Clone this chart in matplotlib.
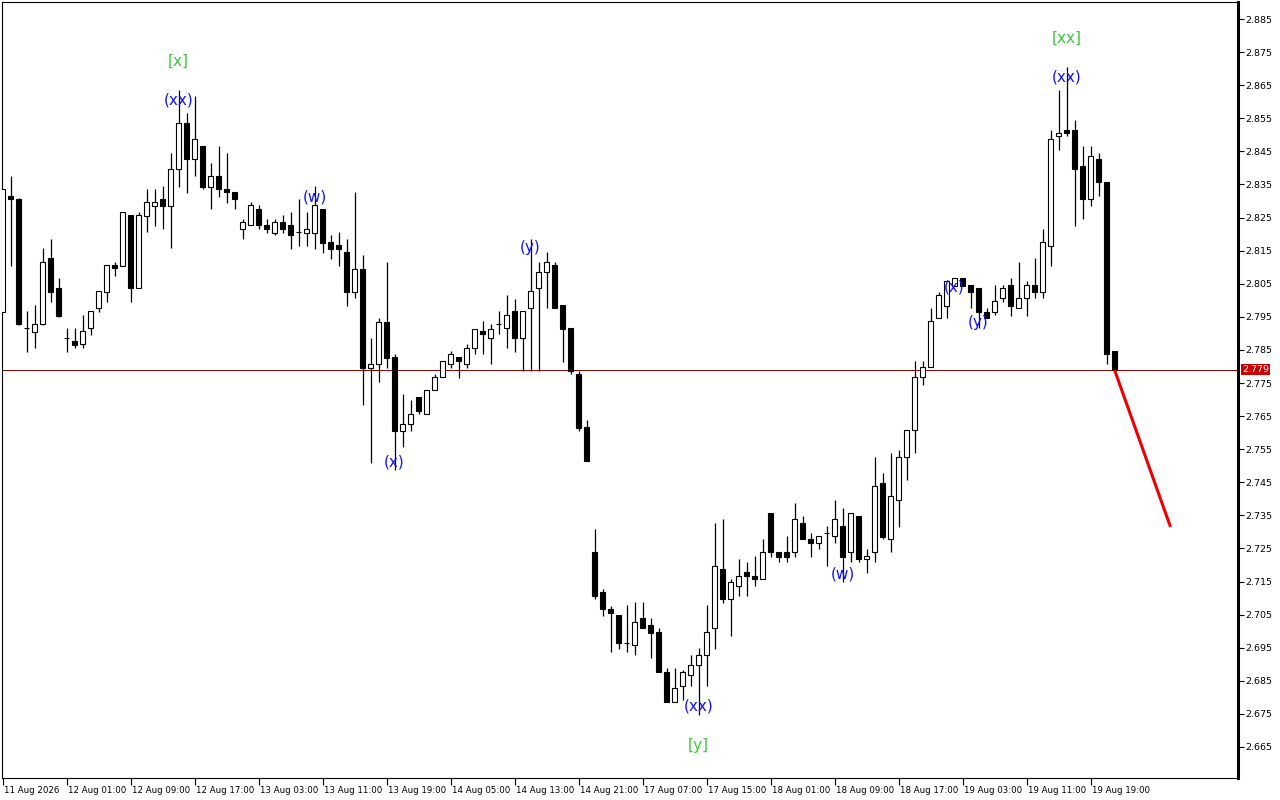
import matplotlib
matplotlib.use("Agg")
import matplotlib.pyplot as plt
import matplotlib.transforms as mtransforms
import numpy as np

# hourly candles (bar index 0..139)
opens = [
    2.7965, 2.8315, 2.8306, 2.7916, 2.7904, 2.7928, 2.8128, 2.8037, 2.7886, 2.7877,
    2.7868, 2.7916, 2.7977, 2.8025, 2.8107, 2.8104, 2.8258, 2.8037, 2.8255, 2.8285,
    2.8306, 2.8285, 2.8397, 2.8536, 2.8427, 2.8466, 2.8342, 2.8376, 2.8336, 2.8327,
    2.8216, 2.8228, 2.8276, 2.8228, 2.8203, 2.8237, 2.8228, 2.8206, 2.8203, 2.8203,
    2.8276, 2.8176, 2.8167, 2.8146, 2.8025, 2.8095, 2.7796, 2.7808, 2.7934, 2.7829,
    2.7605, 2.7626, 2.7708, 2.7656, 2.7729, 2.7768, 2.7808, 2.7829, 2.7808, 2.7856,
    2.7907, 2.7886, 2.7928, 2.7916, 2.7968, 2.7886, 2.7977, 2.8037, 2.8085, 2.8107,
    2.7986, 2.7916, 2.7777, 2.7617, 2.7239, 2.7118, 2.7067, 2.7049, 2.6964, 2.6958,
    2.7040, 2.7019, 2.6998, 2.6877, 2.6786, 2.6834, 2.6868, 2.6898, 2.6928, 2.7010,
    2.7188, 2.7097, 2.7137, 2.7179, 2.7167, 2.7158, 2.7357, 2.7239, 2.7239, 2.7239,
    2.7327, 2.7279, 2.7267, 2.7297, 2.7288, 2.7318, 2.7239, 2.7348, 2.7218, 2.7239,
    2.7448, 2.7279, 2.7396, 2.7527, 2.7608, 2.7768, 2.7798, 2.7947, 2.7983, 2.8043,
    2.8067, 2.8046, 2.8037, 2.7965, 2.7965, 2.8007, 2.8046, 2.7977, 2.8007, 2.8046,
    2.8025, 2.8164, 2.8497, 2.8515, 2.8515, 2.8406, 2.8306, 2.8427, 2.8357, 2.7847,
]
highs = [
    2.8336, 2.8376, 2.8309, 2.7968, 2.7986, 2.8158, 2.8185, 2.8067, 2.7916, 2.7916,
    2.7956, 2.7968, 2.8028, 2.8107, 2.8116, 2.8267, 2.8258, 2.8267, 2.8336, 2.8336,
    2.8345, 2.8445, 2.8635, 2.8566, 2.8617, 2.8466, 2.8415, 2.8466, 2.8445, 2.8327,
    2.8246, 2.8297, 2.8288, 2.8246, 2.8246, 2.8258, 2.8267, 2.8306, 2.8267, 2.8345,
    2.8276, 2.8197, 2.8206, 2.8185, 2.8327, 2.8137, 2.7886, 2.7947, 2.8116, 2.7838,
    2.7717, 2.7699, 2.7708, 2.7729, 2.7777, 2.7816, 2.7847, 2.7829, 2.7868, 2.7913,
    2.7937, 2.7928, 2.7968, 2.8016, 2.8004, 2.7968, 2.8185, 2.8116, 2.8146, 2.8116,
    2.7986, 2.7916, 2.7786, 2.7638, 2.7309, 2.7128, 2.7076, 2.7049, 2.7079, 2.7088,
    2.7088, 2.7040, 2.7010, 2.6889, 2.6889, 2.6883, 2.6928, 2.6949, 2.7079, 2.7327,
    2.7339, 2.7158, 2.7218, 2.7209, 2.7227, 2.7279, 2.7357, 2.7239, 2.7288, 2.7387,
    2.7348, 2.7297, 2.7288, 2.7318, 2.7396, 2.7372, 2.7357, 2.7348, 2.7249, 2.7527,
    2.7478, 2.7539, 2.7548, 2.7608, 2.7816, 2.7816, 2.7977, 2.8025, 2.8058, 2.8067,
    2.8067, 2.8046, 2.8037, 2.7977, 2.8046, 2.8046, 2.8067, 2.8116, 2.8058, 2.8128,
    2.8216, 2.8515, 2.8635, 2.8705, 2.8545, 2.8466, 2.8466, 2.8445, 2.8357, 2.7847,
]
lows = [
    2.7965, 2.8104, 2.7925, 2.7844, 2.7856, 2.7925, 2.7995, 2.7950, 2.7844, 2.7856,
    2.7856, 2.7895, 2.7965, 2.7995, 2.8073, 2.8104, 2.7995, 2.8037, 2.8206, 2.8225,
    2.8216, 2.8158, 2.8342, 2.8324, 2.8376, 2.8336, 2.8276, 2.8312, 2.8294, 2.8276,
    2.8185, 2.8228, 2.8216, 2.8203, 2.8197, 2.8203, 2.8155, 2.8164, 2.8164, 2.8155,
    2.8143, 2.8125, 2.8104, 2.7983, 2.8007, 2.7684, 2.7508, 2.7753, 2.7796, 2.7487,
    2.7557, 2.7605, 2.7656, 2.7656, 2.7729, 2.7768, 2.7796, 2.7765, 2.7796, 2.7838,
    2.7838, 2.7808, 2.7898, 2.7856, 2.7844, 2.7786, 2.7786, 2.7786, 2.7977, 2.7977,
    2.7813, 2.7777, 2.7605, 2.7514, 2.7097, 2.7046, 2.6937, 2.6946, 2.6937, 2.6928,
    2.7010, 2.6919, 2.6877, 2.6786, 2.6786, 2.6792, 2.6834, 2.6747, 2.6834, 2.6946,
    2.7085, 2.6986, 2.7106, 2.7106, 2.7137, 2.7158, 2.7224, 2.7209, 2.7209, 2.7224,
    2.7279, 2.7224, 2.7249, 2.7197, 2.7267, 2.7149, 2.7209, 2.7209, 2.7176, 2.7209,
    2.7279, 2.7239, 2.7315, 2.7457, 2.7539, 2.7744, 2.7798, 2.7947, 2.7947, 2.8043,
    2.8043, 2.7977, 2.7916, 2.7947, 2.7956, 2.7995, 2.7953, 2.7977, 2.7953, 2.8007,
    2.8007, 2.8104, 2.8454, 2.8497, 2.8225, 2.8246, 2.8285, 2.8315, 2.7808, 2.7789,
]
closes = [
    2.8336, 2.8306, 2.7928, 2.7915, 2.7928, 2.8116, 2.8025, 2.7953, 2.7885, 2.7865,
    2.7907, 2.7968, 2.8028, 2.8107, 2.8098, 2.8267, 2.8037, 2.8258, 2.8297, 2.8297,
    2.8285, 2.8397, 2.8536, 2.8427, 2.8488, 2.8342, 2.8376, 2.8336, 2.8327, 2.8306,
    2.8237, 2.8288, 2.8228, 2.8216, 2.8237, 2.8216, 2.8197, 2.8205, 2.8216, 2.8288,
    2.8173, 2.8155, 2.8155, 2.8025, 2.8095, 2.7796, 2.7808, 2.7934, 2.7826, 2.7605,
    2.7626, 2.7656, 2.7665, 2.7729, 2.7768, 2.7816, 2.7838, 2.7816, 2.7856, 2.7913,
    2.7898, 2.7913, 2.7927, 2.7956, 2.7886, 2.7968, 2.8028, 2.8085, 2.8116, 2.7977,
    2.7913, 2.7786, 2.7614, 2.7514, 2.7106, 2.7067, 2.7055, 2.6964, 2.6963, 2.7028,
    2.7010, 2.6995, 2.6877, 2.6786, 2.6828, 2.6877, 2.6898, 2.6928, 2.6998, 2.7197,
    2.7097, 2.7149, 2.7167, 2.7167, 2.7158, 2.7239, 2.7239, 2.7224, 2.7224, 2.7339,
    2.7279, 2.7267, 2.7288, 2.7296, 2.7339, 2.7224, 2.7357, 2.7218, 2.7227, 2.7439,
    2.7285, 2.7409, 2.7527, 2.7608, 2.7768, 2.7798, 2.7937, 2.8016, 2.8058, 2.8067,
    2.8043, 2.8025, 2.7965, 2.7947, 2.7998, 2.8037, 2.7983, 2.8007, 2.8046, 2.8025,
    2.8176, 2.8488, 2.8506, 2.8506, 2.8397, 2.8306, 2.8436, 2.8357, 2.7838, 2.7790,
]

bid = 2.779
proj_x = [139, 146]
proj_y = [2.779, 2.7315]

# wave labels: text, bar, price, kind
wave_text = ["[x]", "(xx)", "(w)", "(x)", "(y)", "(xx)", "[y]", "(w)", "(x)", "(y)", "(xx)", "[xx]"]
wave_bar = [22, 22, 39, 49, 66, 87, 87, 105, 119, 122, 133, 133]
wave_price = [2.8723, 2.8605, 2.8312, 2.7511, 2.8158, 2.6774, 2.6656, 2.7173, 2.8040, 2.7934, 2.8675, 2.8793]
wave_major = [True, False, False, False, False, False, True, False, False, False, False, True]

x_ticklabels = ["11 Aug 2026", "12 Aug 01:00", "12 Aug 09:00", "12 Aug 17:00", "13 Aug 03:00",
                "13 Aug 11:00", "13 Aug 19:00", "14 Aug 05:00", "14 Aug 13:00", "14 Aug 21:00",
                "17 Aug 07:00", "17 Aug 15:00", "18 Aug 01:00", "18 Aug 09:00", "18 Aug 17:00",
                "19 Aug 03:00", "19 Aug 11:00", "19 Aug 19:00"]
y_ticks = [2.665, 2.675, 2.685, 2.695, 2.705, 2.715, 2.725, 2.735, 2.745, 2.755, 2.765, 2.775,
           2.785, 2.795, 2.805, 2.815, 2.825, 2.835, 2.845, 2.855, 2.865, 2.875, 2.885]

fig = plt.figure(figsize=(12.8, 8), dpi=100)
ax = fig.add_axes([2 / 1280, 22 / 800, 1236 / 1280, 776 / 800])

o = np.array(opens); h = np.array(highs); l = np.array(lows); c = np.array(closes)
x = np.arange(len(o))
up = c >= o

ax.vlines(x, l, h, color="black", lw=0.9, zorder=2)
body = np.maximum(np.abs(c - o), 0.00005)
ax.bar(x, body, bottom=np.minimum(o, c), width=0.62,
       color=np.where(up, "white", "black"), edgecolor="black", linewidth=0.8, zorder=3)

ax.axhline(bid, color="#8c0000", lw=0.7, zorder=1)
ax.plot(proj_x, proj_y, color="#ee0000", lw=2.2, zorder=4, solid_capstyle="butt")

for t, b, p, major in zip(wave_text, wave_bar, wave_price, wave_major):
    ax.text(b, p, t, ha="center", va="center", fontsize=11,
            color="#3cc83c" if major else "#1010ff", zorder=5)

ax.set_xlim(-0.0625, -0.0625 + 1236 / 8)
ax.set_ylim(2.65563, 2.89014)

ax.yaxis.tick_right()
ax.set_yticks(y_ticks)
ax.set_yticklabels([f"{v:.3f}" for v in y_ticks])
ax.tick_params(axis="y", direction="out", length=4, width=0.8, labelsize=6.8, pad=1)

ax.set_xticks(np.arange(len(x_ticklabels)) * 8)
ax.set_xticklabels(x_ticklabels)
ax.tick_params(axis="x", direction="out", length=5, width=0.8, labelsize=6.2, pad=1)
shift = mtransforms.ScaledTranslation(1.5 / 100, 0, fig.dpi_scale_trans)
for lab in ax.get_xticklabels():
    lab.set_horizontalalignment("left")
    lab.set_transform(lab.get_transform() + shift)

for s in ["left", "top", "bottom"]:
    ax.spines[s].set_linewidth(0.8)
ax.spines["right"].set_linewidth(2.2)

ax.annotate(f"{bid:.3f}", xy=(1.0, bid), xycoords=ax.get_yaxis_transform(),
            xytext=(3, 0), textcoords="offset points", ha="left", va="center",
            fontsize=6.8, color="white", zorder=6,
            bbox=dict(boxstyle="square,pad=0.1", facecolor="#cc0000", edgecolor="none"))

fig.savefig("out.png", dpi=100, facecolor="white")
